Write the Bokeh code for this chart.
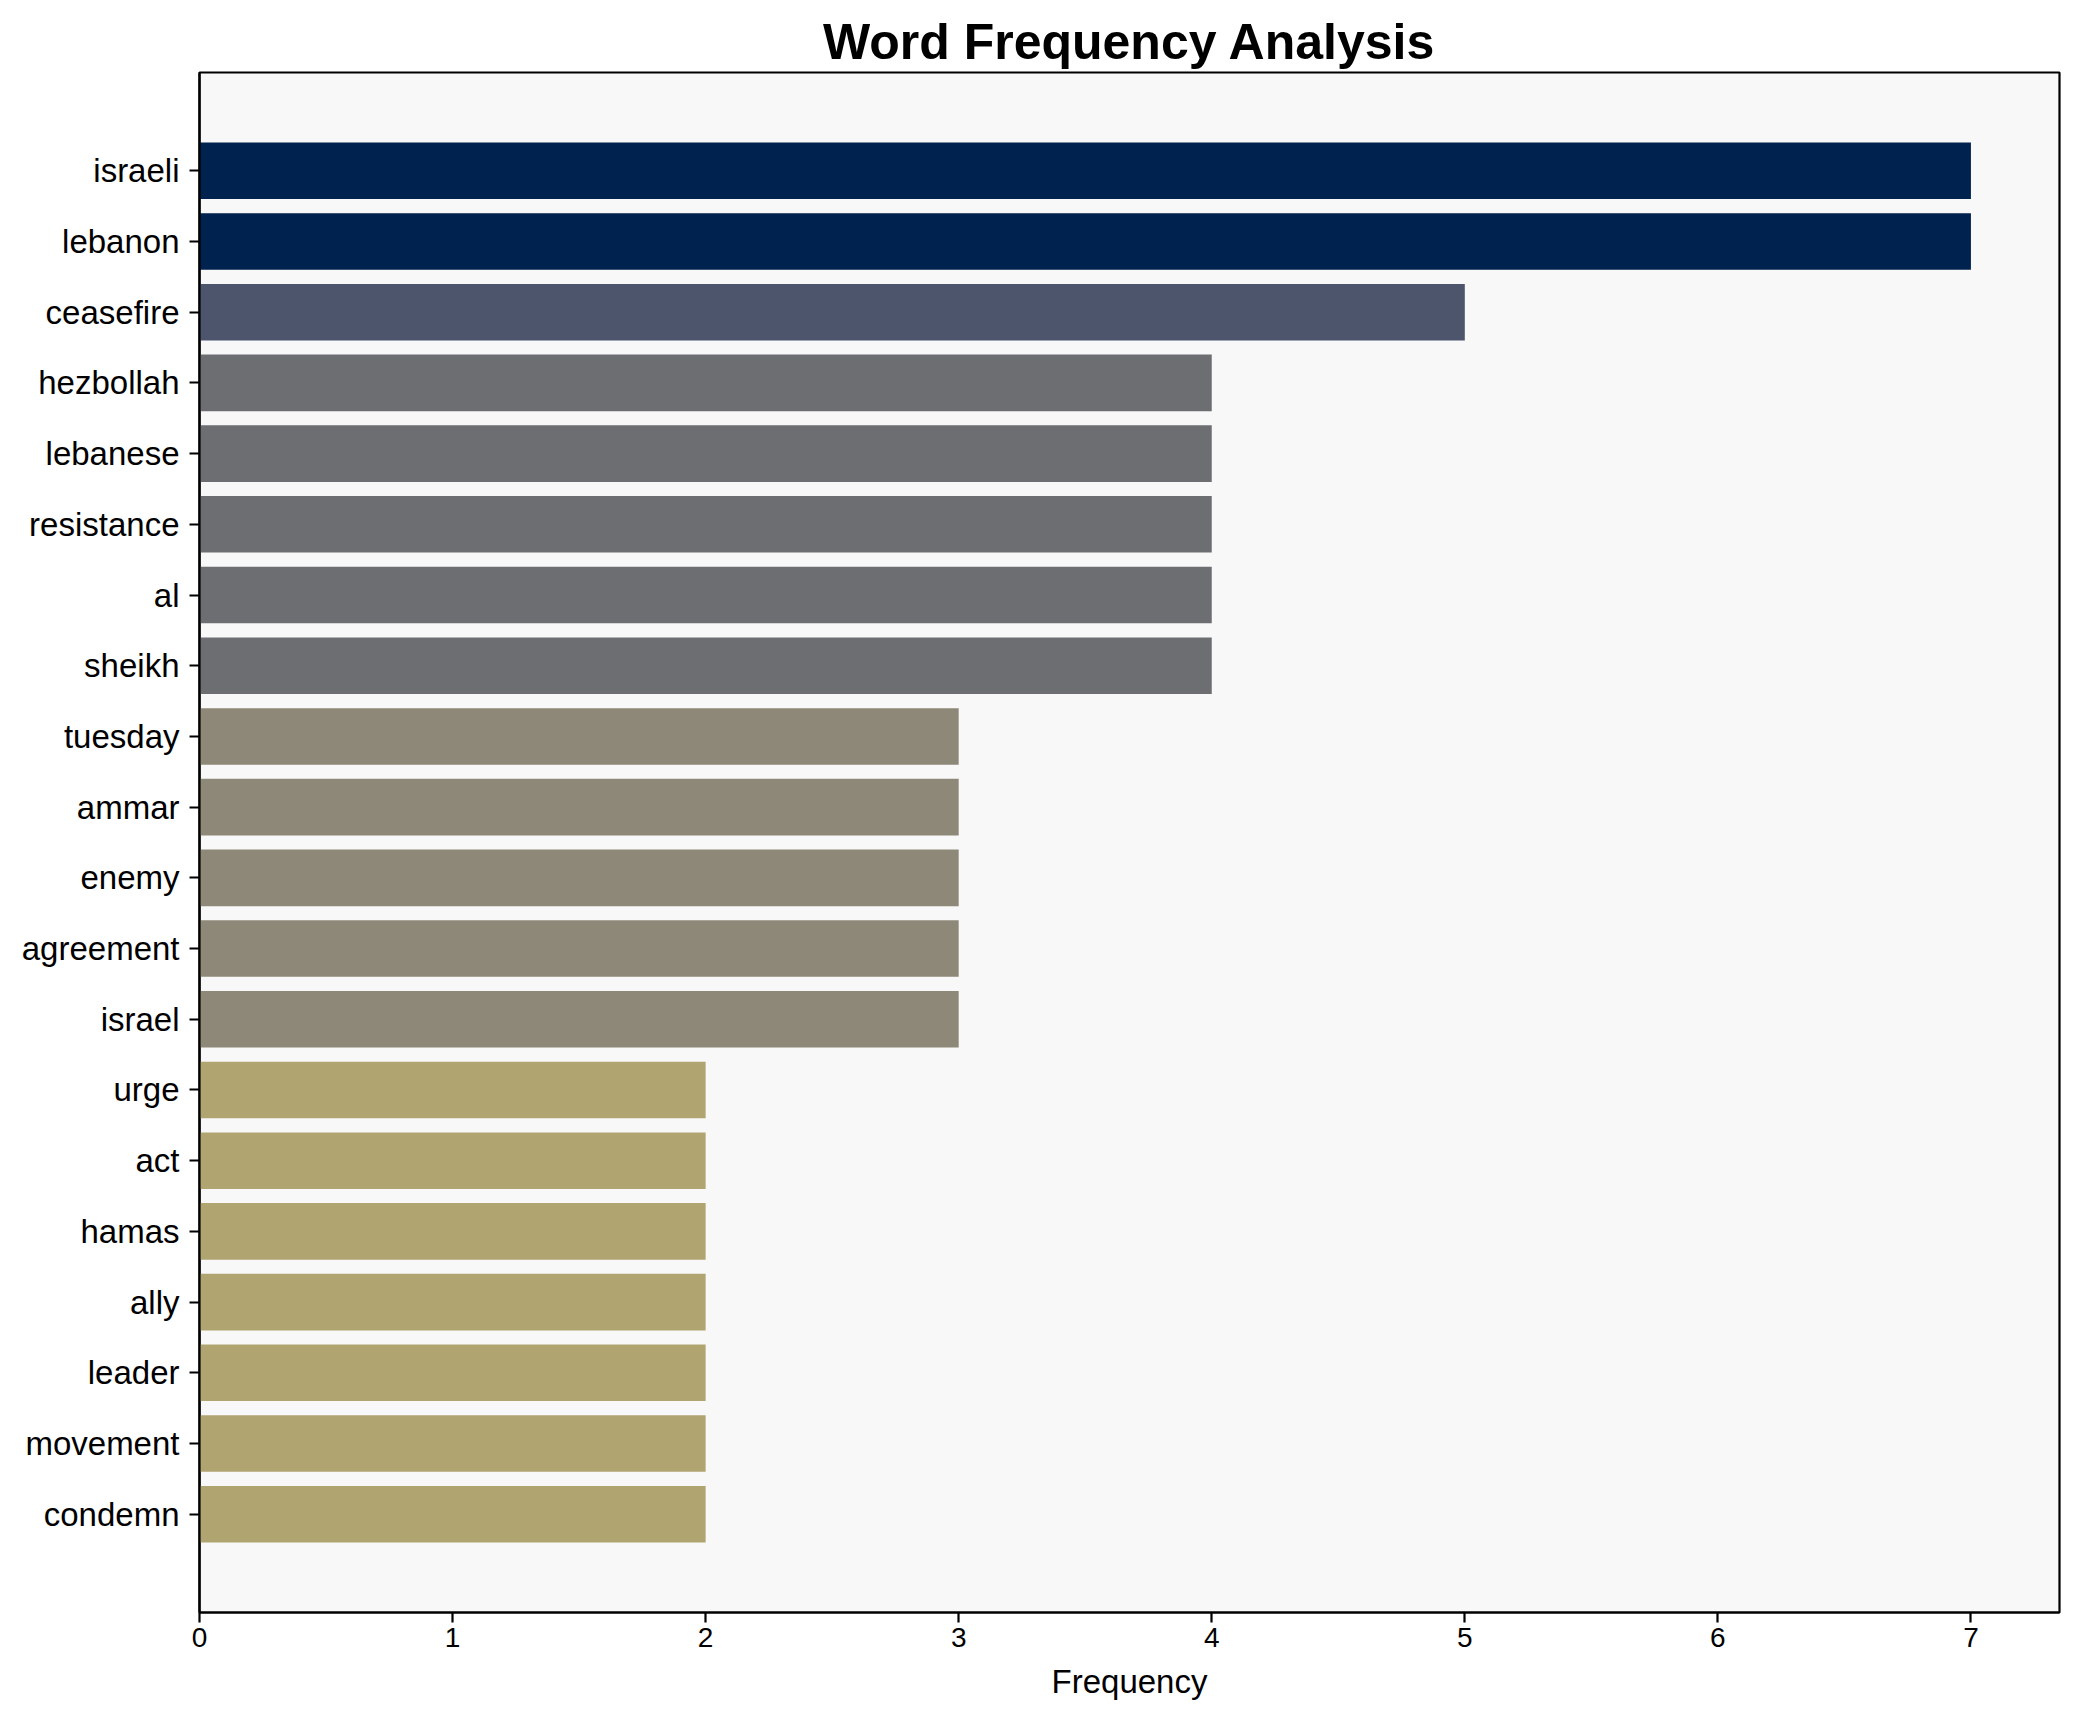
from bokeh.plotting import figure
from bokeh.models import ColumnDataSource, FactorRange, Range1d, FixedTicker
from bokeh.embed import file_html
from bokeh.resources import INLINE

words = ["israeli", "lebanon", "ceasefire", "hezbollah", "lebanese", "resistance",
         "al", "sheikh", "tuesday", "ammar", "enemy", "agreement", "israel",
         "urge", "act", "hamas", "ally", "leader", "movement", "condemn"]
counts = [7, 7, 5, 4, 4, 4, 4, 4, 3, 3, 3, 3, 3, 2, 2, 2, 2, 2, 2, 2]
color_by_count = {7: "#00224e", 5: "#4c556c", 4: "#6c6e72", 3: "#8e8878", 2: "#b0a570"}
x_ticks = [0, 1, 2, 3, 4, 5, 6, 7]

colors = [color_by_count[c] for c in counts]
src = ColumnDataSource(dict(word=words, count=counts, color=colors))

FONT = "Liberation Sans"

p = figure(width=2071, height=1714, output_backend="svg", toolbar_location=None,
           y_range=FactorRange(factors=list(reversed(words)), range_padding=0.89,
                               range_padding_units="absolute"),
           x_range=Range1d(0, 7.35),
           min_border_left=199, min_border_right=12, min_border_top=72,
           min_border_bottom=102)

p.hbar(y="word", right="count", left=0, height=0.8, color="color", source=src,
       line_color=None)

p.title.text = "Word Frequency Analysis"
p.title.align = "center"
p.title.text_font = FONT
p.title.text_font_size = "50px"
p.title.text_font_style = "bold"
p.title.text_color = "black"
p.title.standoff = 5

p.background_fill_color = "#f8f8f8"
p.border_fill_color = "white"
p.outline_line_color = "black"
p.outline_line_width = 2.2
p.outline_line_alpha = 1.0
p.xgrid.visible = False
p.ygrid.visible = False

p.xaxis.ticker = FixedTicker(ticks=x_ticks)
p.xaxis.axis_label = "Frequency"
for ax in (p.xaxis[0], p.yaxis[0]):
    ax.axis_line_width = 2.2
    ax.axis_line_color = "black"
    ax.major_tick_line_width = 2.2
    ax.major_tick_line_color = "black"
    ax.major_tick_out = 10
    ax.major_tick_in = 0
    ax.minor_tick_out = 0
    ax.minor_tick_in = 0
    ax.major_label_text_font = FONT
    ax.major_label_text_color = "black"
    ax.axis_label_text_font = FONT
    ax.axis_label_text_color = "black"

p.xaxis.major_label_text_font_size = "28px"
p.xaxis.major_label_standoff = 5
p.xaxis.axis_label_text_font_size = "33px"
p.xaxis.axis_label_text_font_style = "normal"
p.xaxis.axis_label_standoff = 13
p.yaxis.major_label_text_font_size = "33px"
p.yaxis.major_label_standoff = 10

open("out.html", "w").write(file_html(p, INLINE))
